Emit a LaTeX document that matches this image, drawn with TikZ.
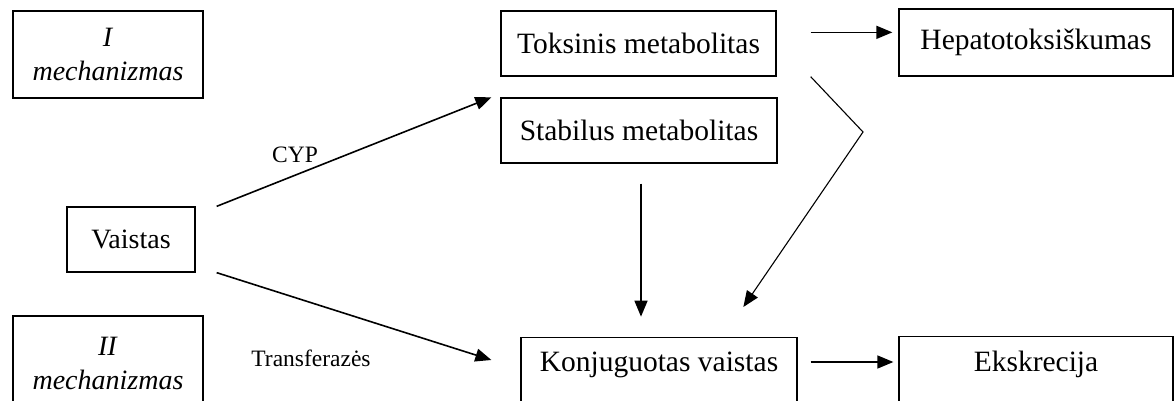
\documentclass[tikz,border=0pt]{standalone}
\usepackage{fontspec}
\setmainfont{Liberation Serif}
\usetikzlibrary{arrows.meta,calc}
\begin{document}
\begin{tikzpicture}[x=1pt,y=-1pt,
  box/.style={draw,line width=1.3pt,rectangle,inner sep=0pt,font=\fontsize{29.5}{34}\selectfont},
  mbox/.style={box,align=center,font=\fontsize{28}{34}\selectfont},
  arr/.style={line width=1.6pt,-{Triangle[length=16pt,width=13pt]}},
  thinarr/.style={line width=1.1pt,-{Triangle[length=16pt,width=13pt]}},
  lbl/.style={font=\fontsize{23.5}{28}\selectfont,inner sep=0pt}]
\useasboundingbox (0,0) rectangle (1174,401);
\fill[white] (0,0) rectangle (1174,401);
% boxes
\node[mbox,minimum width=190pt,minimum height=87pt] (m1) at (108,54.5) {\textit{I}\\\textit{mechanizmas}};
\node[mbox,minimum width=190pt,minimum height=94pt] (m2) at (108,363) {\textit{II}\\\textit{mechanizmas}};
\node[box,font=\fontsize{28}{34}\selectfont,minimum width=128pt,minimum height=65pt] (v) at (131,239.5) {Vaistas};
\node[box,minimum width=275pt,minimum height=65pt] (tox) at (638.5,43.5) {Toksinis metabolitas};
\node[box,minimum width=276pt,minimum height=65pt] (stab) at (639,130.5) {Stabilus metabolitas};
\node[box,minimum width=274pt,minimum height=67pt] (hep) at (1036,42.5) {Hepatotoksiškumas};
\node[box,anchor=north,minimum width=276pt,text height=34pt,text depth=60pt] (konj) at (659,337) {Konjuguotas vaistas};
\node[box,anchor=north,minimum width=274pt,text height=35pt,text depth=60pt] (eks) at (1036,336) {Ekskrecija};
% labels
\node[lbl] (cyp) at (295,155) {CYP};
\node[lbl] (tr) at (311,358) {Transferazės};
% connectors
\coordinate (k) at (863,132);
\draw[arr] ($(v.north east)+(21,0)$) -- ($(stab.north west)+(-9,0)$);
\draw[arr] ($(v.south east)+(21,0)$) -- ($(konj.north west)+(-29,23)$);
\draw[arr] ($(tox.north east)+(34,22)$) -- ($(hep.north west)+(-6,24)$);
\draw[thinarr] ($(tox.south east)+(34,0)$) -- (k) -- ($(konj.north west)+(223,-30)$);
\draw[arr] ($(stab.south)+(2,20)$) -- ($(stab.south)+(2,153)$);
\draw[arr] ($(konj.north east)+(13,25)$) -- ($(eks.north west)+(-5,26)$);
\end{tikzpicture}
\end{document}
